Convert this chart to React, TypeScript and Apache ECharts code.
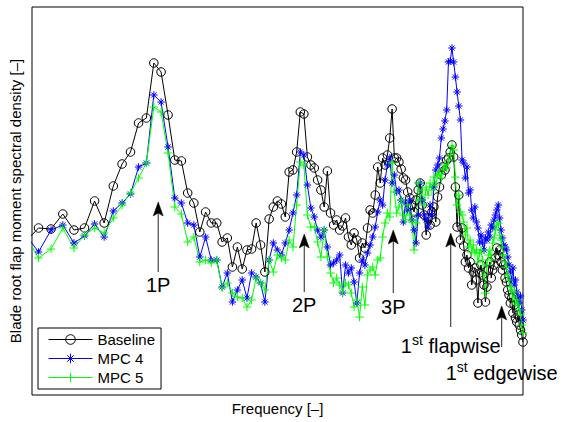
import React, { useEffect, useRef } from "react";
import * as echarts from "echarts";

const FONT = '"Liberation Sans", Arial, Helvetica, sans-serif';

// Frequency bins (integer bin numbers, plotted on a logarithmic axis)
const firstBin = 15;
const lastBin = 168;
const frequency: number[] = [];
for (let f = firstBin; f <= lastBin; f += 1) frequency.push(f);

const seriesNames = ["Baseline", "MPC 4", "MPC 5"];

// Spectral density (arbitrary log units), one value per bin 15..168
const baseline = [
  153, 167, 166, 181, 165, 167, 194, 172, 209, 231,
  243, 272, 277, 332, 323, 280, 235, 234, 202, 192,
  163, 183, 172, 172, 153, 157, 128, 148, 126, 145,
  146, 172, 150, 123, 176, 188, 194, 191, 178, 223,
  225, 243, 283, 281, 238, 230, 227, 215, 205, 188,
  224, 182, 170, 175, 165, 169, 177, 158, 150, 162,
  155, 137, 152, 147, 167, 185, 182, 200, 228, 212,
  237, 230, 240, 257, 286, 237, 237, 233, 226, 217,
  215, 203, 197, 190, 183, 195, 205, 212, 190, 180,
  160, 177, 170, 183, 188, 173, 198, 208, 220, 228,
  225, 235, 237, 243, 250, 238, 208, 168, 200, 155,
  167, 149, 133, 140, 127, 133, 110, 123, 127, 115,
  92, 122, 130, 120, 110, 93, 108, 125, 133, 117,
  125, 130, 137, 147, 140, 145, 133, 125, 130, 117,
  113, 105, 100, 92, 97, 82, 90, 77, 73, 80,
  70, 65, 60, 53,
];

const mpc4 = [
  161, 143, 165, 170, 152, 159, 171, 158, 184, 192,
  201, 228, 232, 300, 293, 248, 197, 192, 172, 170,
  138, 158, 135, 135, 108, 122, 93, 105, 115, 97,
  122, 118, 112, 93, 135, 152, 145, 140, 152, 165,
  182, 200, 243, 240, 210, 187, 178, 165, 158, 165,
  148, 130, 132, 135, 140, 102, 130, 122, 127, 113,
  92, 122, 135, 130, 142, 150, 158, 168, 183, 195,
  190, 215, 230, 237, 212, 220, 203, 205, 195, 173,
  192, 185, 195, 175, 165, 152, 180, 212, 195, 180,
  175, 168, 190, 180, 208, 225, 230, 237, 257, 266,
  274, 285, 333, 334, 347, 333, 318, 303, 289, 275,
  235, 232, 217, 228, 202, 205, 185, 177, 188, 173,
  167, 153, 160, 152, 145, 157, 155, 163, 158, 170,
  167, 175, 180, 185, 190, 177, 165, 157, 150, 148,
  145, 138, 130, 123, 115, 127, 110, 115, 103, 97,
  92, 99, 85, 75,
];

const mpc5 = [
  160, 137, 146, 167, 147, 160, 167, 162, 177, 190,
  202, 217, 232, 288, 283, 242, 188, 181, 153, 158,
  133, 135, 132, 135, 107, 112, 102, 98, 97, 88,
  95, 117, 112, 105, 135, 123, 140, 137, 135, 155,
  148, 190, 233, 230, 180, 168, 168, 153, 138, 165,
  138, 122, 112, 117, 110, 103, 112, 110, 102, 88,
  95, 78, 108, 90, 120, 125, 128, 120, 135, 137,
  158, 172, 182, 178, 232, 203, 182, 188, 195, 180,
  175, 190, 180, 173, 145, 172, 212, 195, 205, 190,
  208, 200, 212, 205, 218, 210, 220, 222, 217, 225,
  230, 227, 235, 240, 249, 245, 218, 190, 200, 183,
  180, 173, 160, 167, 148, 155, 143, 150, 142, 145,
  133, 142, 145, 135, 120, 102, 130, 140, 145, 135,
  152, 157, 165, 170, 172, 160, 155, 148, 140, 133,
  128, 120, 115, 108, 105, 98, 103, 92, 95, 90,
  85, 80, 70, 62,
];

// Annotation arrows: frequency, arrow tip / tail level, label level
const annotations = [
  { pre: "1P", sup: "", post: "", freq: 28.6, tip: 193, tail: 123, textAt: 110 },
  { pre: "2P", sup: "", post: "", freq: 58.1, tip: 161, tail: 103, textAt: 90 },
  { pre: "3P", sup: "", post: "", freq: 89.5, tip: 165, tail: 102, textAt: 88 },
  { pre: "1", sup: "st", post: " flapwise", freq: 118.3, tip: 162, tail: 68, textAt: 51 },
  { pre: "1", sup: "st", post: " edgewise", freq: 151.5, tip: 89, tail: 48, textAt: 24 },
];

const ASTERISK = "path://M5 0L5 10M0 5L10 5M1.6 1.6L8.4 8.4M1.6 8.4L8.4 1.6";
const PLUS = "path://M5 0L5 10M0 5L10 5";

function pairs(values: number[]) {
  return values.map((v, i) => [frequency[i], v]);
}

export default function App() {
  const ref = useRef<HTMLDivElement>(null);

  useEffect(() => {
    const el = ref.current;
    if (!el) return;
    const chart = echarts.init(el, undefined, { renderer: "svg" });

    const defs = [
      { name: seriesNames[0], data: baseline, color: "#000000", symbol: "circle", size: 8.5 },
      { name: seriesNames[1], data: mpc4, color: "#0000ff", symbol: ASTERISK, size: 7.5 },
      { name: seriesNames[2], data: mpc5, color: "#00ff00", symbol: PLUS, size: 8.5 },
    ];

    chart.setOption({
      animation: false,
      textStyle: { fontFamily: FONT },
      grid: {
        left: 32,
        right: 40,
        top: 7,
        bottom: 27,
        show: true,
        borderColor: "#000",
        borderWidth: 1,
        backgroundColor: "transparent",
      },
      xAxis: {
        type: "log",
        logBase: 10,
        min: 15.5,
        max: 168,
        name: "Frequency [–]",
        nameLocation: "middle",
        nameGap: 6,
        nameTextStyle: { fontSize: 15, fontFamily: FONT, color: "#000" },
        axisLine: { show: false },
        axisTick: { show: false },
        axisLabel: { show: false },
        splitLine: { show: false },
      },
      yAxis: {
        type: "value",
        min: 0,
        max: 388,
        name: "Blade root flap moment spectral density [–]",
        nameLocation: "middle",
        nameGap: 9,
        nameTextStyle: { fontSize: 15, fontFamily: FONT, color: "#000" },
        axisLine: { show: false },
        axisTick: { show: false },
        axisLabel: { show: false },
        splitLine: { show: false },
      },
      legend: {
        orient: "vertical",
        left: 38,
        top: 328,
        data: seriesNames,
        itemWidth: 44,
        itemHeight: 12,
        itemGap: 4,
        padding: [4, 6, 4, 10],
        backgroundColor: "#fff",
        borderColor: "#000",
        borderWidth: 1,
        borderRadius: 0,
        selectedMode: false,
        textStyle: { fontSize: 15, fontFamily: FONT, color: "#000" },
        itemStyle: { borderWidth: 1 },
        lineStyle: { width: 1 },
      },
      series: defs.map((s) => ({
        type: "line",
        name: s.name,
        data: pairs(s.data),
        symbol: s.symbol,
        symbolSize: s.size,
        showAllSymbol: true,
        clip: true,
        silent: true,
        emphasis: { disabled: true },
        lineStyle: { color: s.color, width: 1 },
        itemStyle: { color: "transparent", borderColor: s.color, borderWidth: 1 },
      })),
    });

    const elements: any[] = [];
    annotations.forEach((a) => {
      const tip = chart.convertToPixel({ gridIndex: 0 }, [a.freq, a.tip]) as number[];
      const tail = chart.convertToPixel({ gridIndex: 0 }, [a.freq, a.tail]) as number[];
      const txt = chart.convertToPixel({ gridIndex: 0 }, [a.freq, a.textAt]) as number[];
      const x = tip[0];
      const ty = tip[1];
      elements.push({
        type: "line",
        z: 100,
        silent: true,
        shape: { x1: x, y1: ty + 10, x2: x, y2: tail[1] },
        style: { stroke: "#222", lineWidth: 1 },
      });
      elements.push({
        type: "polygon",
        z: 100,
        silent: true,
        shape: {
          points: [
            [x, ty],
            [x - 5, ty + 14],
            [x, ty + 11],
            [x + 5, ty + 14],
          ],
        },
        style: { fill: "#000", stroke: "#000", lineWidth: 0.5 },
      });
      const text = a.sup ? `{n|${a.pre}}{s|${a.sup}}{n|${a.post}}` : a.pre;
      elements.push({
        type: "text",
        z: 100,
        silent: true,
        x: txt[0],
        y: txt[1],
        style: {
          text,
          fontSize: 20,
          fontFamily: FONT,
          fill: "#000",
          align: "center",
          verticalAlign: "middle",
          textAlign: "center",
          textVerticalAlign: "middle",
          rich: {
            n: { fontSize: 20, fontFamily: FONT, fill: "#000", color: "#000", verticalAlign: "bottom" },
            s: {
              fontSize: 14,
              fontFamily: FONT,
              fill: "#000",
              color: "#000",
              verticalAlign: "bottom",
              padding: [0, 0, 9, 0],
            },
          },
        },
      });
    });
    chart.setOption({ graphic: { elements } });

    return () => {
      chart.dispose();
    };
  }, []);

  return (
    <div
      ref={ref}
      style={{ position: "fixed", left: 0, top: 0, width: 563, height: 422, background: "#fff" }}
    />
  );
}
